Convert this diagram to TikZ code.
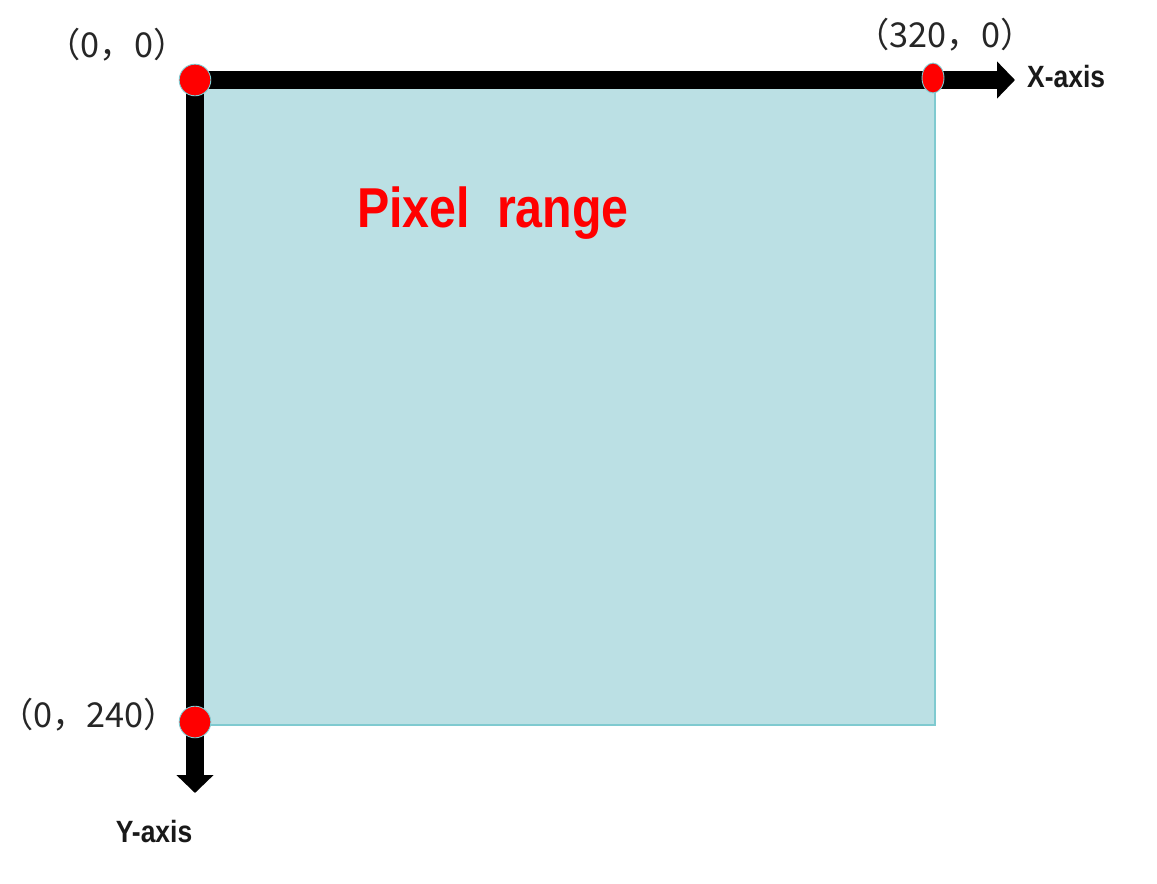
\documentclass[tikz,border=0pt]{standalone}
\usepackage{fontspec}
\setmainfont{Liberation Sans}
\newfontfamily\cjk{Noto Sans CJK SC}
\newfontfamily\narrow[FakeStretch=0.86]{Liberation Sans Bold}
\usetikzlibrary{arrows.meta,shapes.geometric}
\definecolor{celeste}{HTML}{BBE0E4}
\definecolor{celesteborde}{HTML}{7FCAD0}

\begin{document}
\begin{tikzpicture}[x=0.02cm, y=-0.02cm,
  eje/.style={line width=10.8pt, -{Triangle[width=20.5pt, length=10.2pt]}},
  punto/.style={circle, fill=red, draw=celesteborde, line width=0.5pt, inner sep=0pt, minimum size=18pt},
  coord/.style={font=\cjk\fontsize{19.5}{22}\selectfont, text=black!85, inner sep=1pt},
  rotulo/.style={font=\narrow\fontsize{17.5}{20}\selectfont, text=black!90}]
  \useasboundingbox (0,0) rectangle (1157,883);
  \coordinate (o) at (195,80);
  \coordinate (q) at (935,725);
  \coordinate (xfin) at (1015,80);
  \coordinate (yfin) at (195,793);
  \filldraw[fill=celeste, draw=celesteborde, line width=0.8pt] (o) rectangle (q);
  \draw[eje] (o) -- (xfin);
  \draw[eje] (o) -- (yfin);
  \node[punto] (p00) at (o) {};
  \node[punto, ellipse, minimum width=12.5pt, minimum height=17pt] (p320) at (933,78) {};
  \node[punto] (p240) at (195,722) {};
  \node[coord] (l00) at (117,45) {（0，0）};
  \node[coord] (l320) at (945,35) {（320，0）};
  \node[coord, anchor=east] (l240) at (180,715) {（0，240）};
  \node[rotulo, anchor=west] (lx) at (1021,77) {X-axis};
  \node[rotulo] (ly) at (154,832) {Y-axis};
  \node[rotulo, text=red, font=\narrow\fontsize{32}{36}\selectfont] (rango) at (493,213) {Pixel\ \ range};
\end{tikzpicture}
\end{document}
